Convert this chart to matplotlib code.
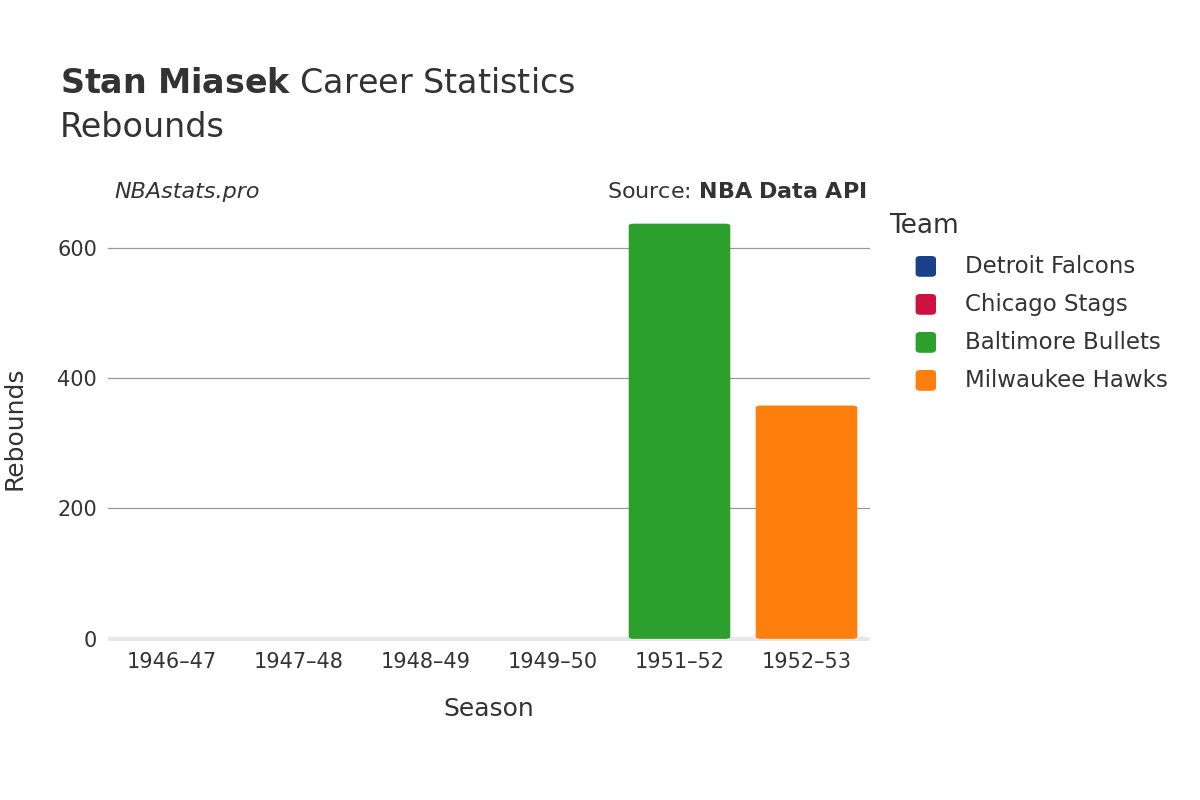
import matplotlib
matplotlib.use("Agg")
import matplotlib.pyplot as plt
from matplotlib.patches import FancyBboxPatch
from matplotlib.lines import Line2D

seasons = ["1946–47", "1947–48", "1948–49", "1949–50", "1951–52", "1952–53"]
teams = ["Detroit Falcons", "Chicago Stags", "Chicago Stags", "Chicago Stags", "Baltimore Bullets", "Milwaukee Hawks"]
rebounds = [0, 0, 0, 0, 637, 358]
team_names = ["Detroit Falcons", "Chicago Stags", "Baltimore Bullets", "Milwaukee Hawks"]
team_colors = {"Detroit Falcons": "#1a428a", "Chicago Stags": "#ce1141",
               "Baltimore Bullets": "#2ca02c", "Milwaukee Hawks": "#ff7f0e"}

plt.rcParams['font.family'] = ['DejaVu Sans']
fig = plt.figure(figsize=(12, 8), dpi=100)
ax = fig.add_axes([0.09, 0.199, 0.635, 0.532])
x = list(range(len(seasons)))
ax.set_xlim(-0.5, len(seasons) - 0.5)
ax.set_ylim(-3, 650)
for i, (v, t) in enumerate(zip(rebounds, teams)):
    if v > 0:
        ax.add_patch(FancyBboxPatch((i - 0.4, 0), 0.8, v,
                     boxstyle="round,pad=0,rounding_size=0.04",
                     mutation_aspect=80, fc=team_colors[t], ec="none", zorder=3))
ax.set_yticks([0, 200, 400, 600])
ax.set_xticks(x)
ax.set_xticklabels(seasons)
ax.grid(axis='y', color='#999999', lw=0.9, zorder=0)
ax.axhline(0, color='#e8e8e8', lw=3, zorder=2)
for s in ax.spines.values():
    s.set_visible(False)
ax.tick_params(length=0, labelsize=15, colors='#333333', pad=8)
ax.set_xlabel("Season", fontsize=18, color='#333333', labelpad=18)
ax.set_ylabel("Rebounds", fontsize=18, color='#333333', labelpad=22)

fig.text(0.05, 0.875, "$\\bf{Stan\\ Miasek}$ Career Statistics", fontsize=24, color='#333333', va='bottom')
fig.text(0.05, 0.82, "Rebounds", fontsize=24, color='#333333', va='bottom')
fig.text(0.095, 0.76, "NBAstats.pro", fontsize=16, style='italic', color='#333333', va='center')
fig.text(0.722, 0.76, "Source: $\\bf{NBA\\ Data\\ API}$", fontsize=16, color='#333333', va='center', ha='right')

fig.text(0.741, 0.717, "Team", fontsize=19, color='#333333', va='center')
for k, name in enumerate(team_names):
    yy = 0.667 - k * 0.0475
    fig.patches.append(FancyBboxPatch((0.763, yy - 0.013), 0.017, 0.026,
                       boxstyle="round,pad=0,rounding_size=0.004",
                       transform=fig.transFigure, fc=team_colors[name], ec='none'))
    fig.text(0.804, yy, name, fontsize=16.5, color='#333333', va='center')

fig.savefig("out.png")
